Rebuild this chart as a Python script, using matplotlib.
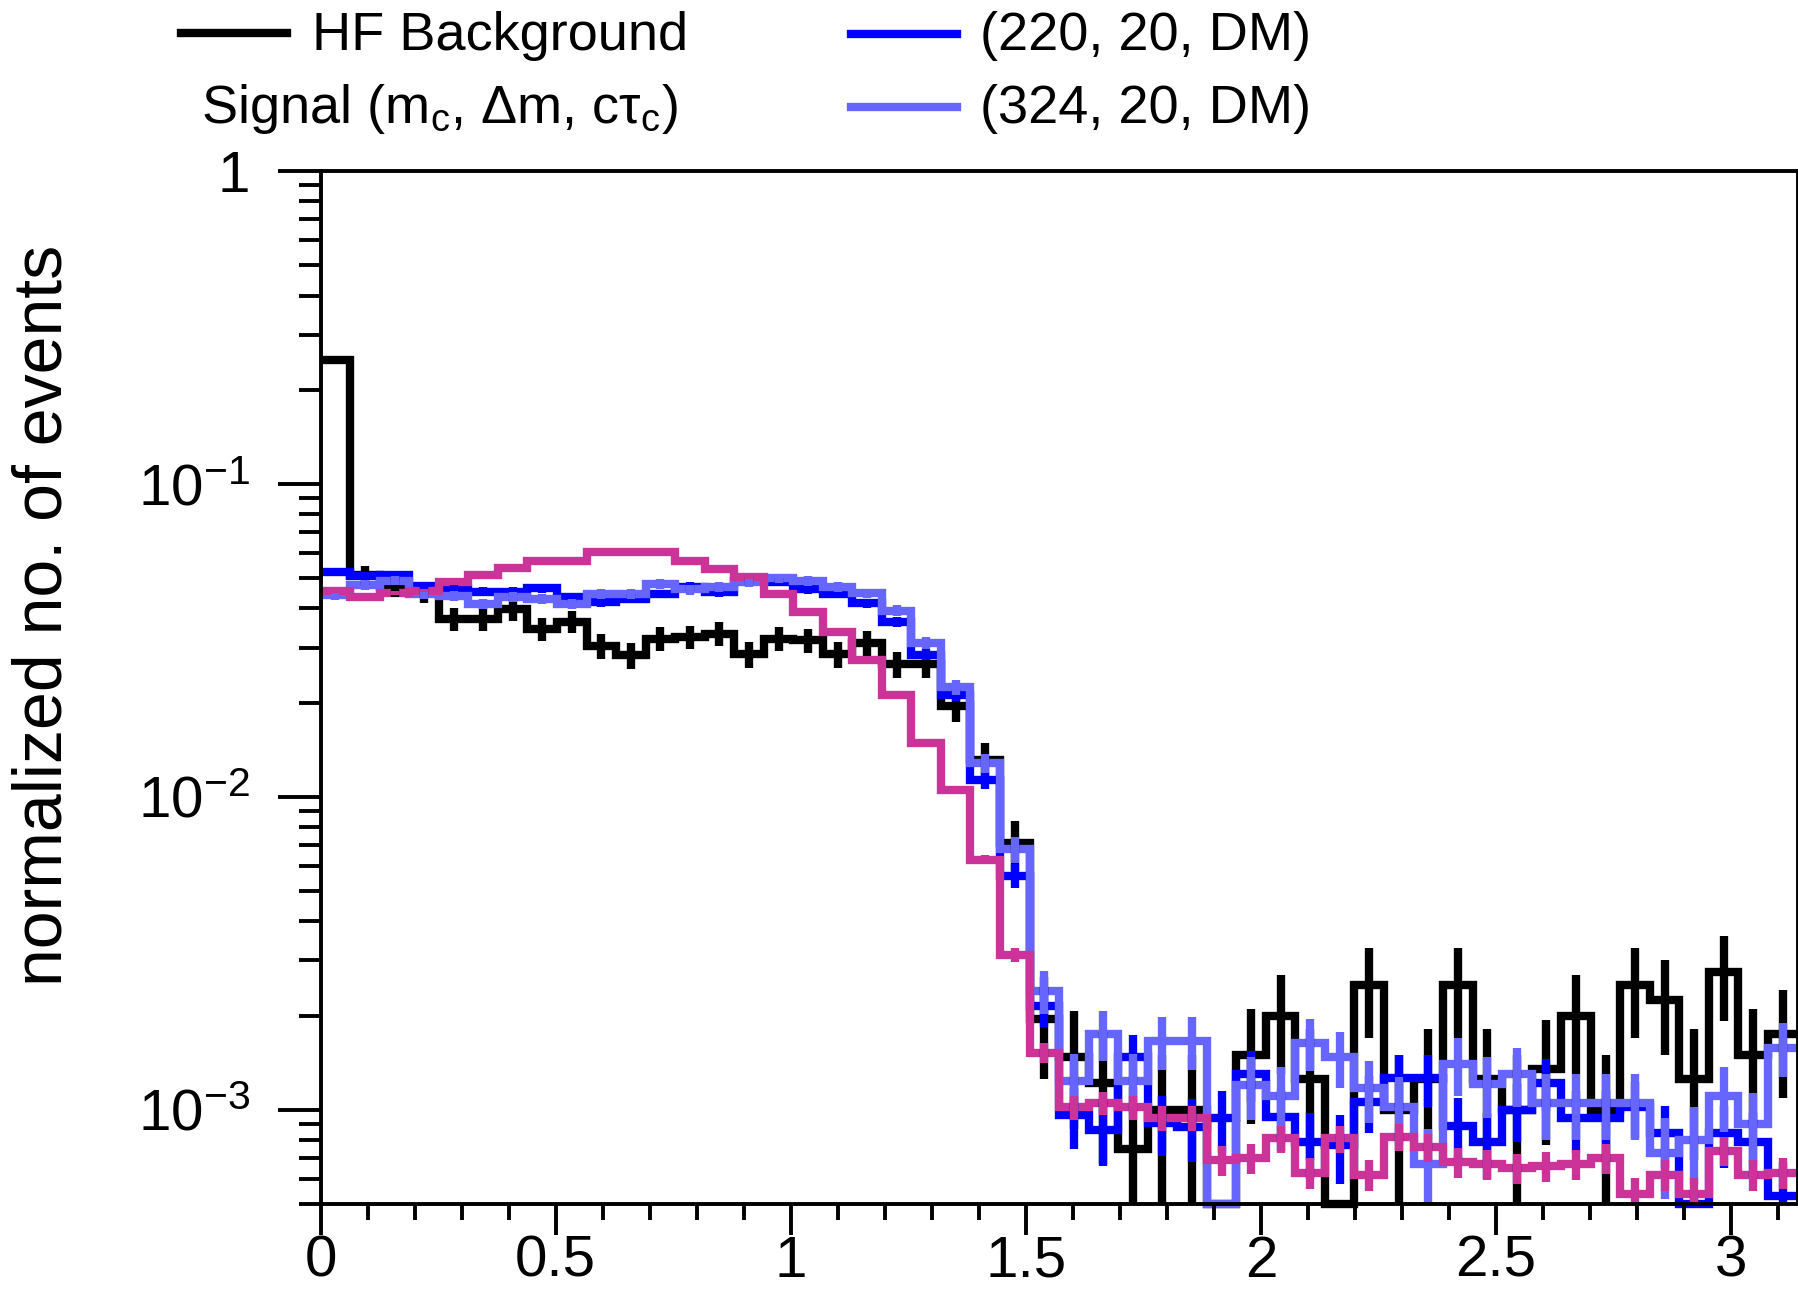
import numpy as np
import matplotlib.pyplot as plt
from matplotlib.lines import Line2D
from matplotlib.ticker import LogLocator, MultipleLocator, FixedLocator, FuncFormatter, NullFormatter

plt.rcParams['font.family'] = ['Liberation Sans', 'DejaVu Sans']
plt.rcParams['mathtext.fontset'] = 'custom'
plt.rcParams['mathtext.rm'] = 'Liberation Sans'
plt.rcParams['mathtext.it'] = 'Liberation Sans'
plt.rcParams['mathtext.default'] = 'regular'

##########
# BINNING #
##########
x_lo, x_hi, n_bins = 0.0, np.pi, 50
y_lo, y_hi = 5e-4, 1.0

x_ticks = [0, 0.5, 1, 1.5, 2, 2.5, 3]
x_tick_labels = ['0', '0.5', '1', '1.5', '2', '2.5', '3']

# HF BACKGROUND (BIN CONTENTS + ERRORS)
bkg_vals = [0.249, 0.051, 0.047, 0.045, 0.037, 0.037, 0.0397, 0.0344, 0.0363, 0.0304,
            0.0283, 0.032, 0.0324, 0.0332, 0.0286, 0.032, 0.0316, 0.0286, 0.031, 0.0265,
            0.0265, 0.0195, 0.0131, 0.0071, 0.00195, 0.00147, 0.00122, 0.00075, 0.001, 0.001,
            0.0, 0.0015, 0.002, 0.00125, 0.0, 0.0025, 0.001, 0.00125, 0.0025, 0.00125,
            0.001, 0.00135, 0.002, 0.001, 0.0025, 0.00225, 0.00125, 0.00275, 0.0015, 0.00175]
bkg_errs = [0.0079, 0.0036, 0.0034, 0.0034, 0.003, 0.003, 0.0031, 0.0029, 0.003, 0.0028,
            0.0027, 0.0028, 0.0028, 0.0029, 0.0027, 0.0028, 0.0028, 0.0027, 0.0028, 0.0026,
            0.0026, 0.0022, 0.0018, 0.0013, 0.0007, 0.0006, 0.00055, 0.00043, 0.0005, 0.0005,
            0.0, 0.0006, 0.0007, 0.00056, 0.0, 0.0008, 0.0005, 0.00056, 0.0008, 0.00056,
            0.0005, 0.00058, 0.0007, 0.0005, 0.0008, 0.00075, 0.00056, 0.00083, 0.0006, 0.00066]

# SIGNAL (220, 20, DM)
sig220_vals = [0.0522, 0.0507, 0.051, 0.0473, 0.0462, 0.0453, 0.0453, 0.0464, 0.0435, 0.0419,
               0.043, 0.0445, 0.047, 0.045, 0.049, 0.0485, 0.046, 0.0445, 0.0416, 0.0362,
               0.0285, 0.0212, 0.0113, 0.0056, 0.00215, 0.00096, 0.00086, 0.00147, 0.00091, 0.00088,
               0.00094, 0.0013, 0.00095, 0.00079, 0.00077, 0.00106, 0.00126, 0.00126, 0.00089, 0.00079,
               0.001, 0.00122, 0.00094, 0.00094, 0.00102, 0.00084, 0.00045, 0.00084, 0.00079, 0.00053]
sig220_errs = [0.0015, 0.0015, 0.0015, 0.00146, 0.00144, 0.00143, 0.00143, 0.00144, 0.0014, 0.00137,
               0.00139, 0.00142, 0.00145, 0.00142, 0.00148, 0.00148, 0.00144, 0.00142, 0.00137, 0.00128,
               0.00113, 0.00098, 0.00071, 0.0005, 0.00031, 0.00021, 0.0002, 0.00026, 0.0002, 0.0002,
               0.00021, 0.00024, 0.00021, 0.00019, 0.00019, 0.00022, 0.00024, 0.00024, 0.0002, 0.00019,
               0.00021, 0.00023, 0.00021, 0.00021, 0.00021, 0.00019, 0.0001, 0.00019, 0.00019, 0.00015]

# SIGNAL (324, 20, DM)
sig324_vals = [0.0442, 0.0475, 0.0491, 0.0446, 0.044, 0.0414, 0.0435, 0.043, 0.0414, 0.0446,
               0.0445, 0.048, 0.046, 0.047, 0.0485, 0.05, 0.049, 0.047, 0.0447, 0.0394,
               0.031, 0.0224, 0.0128, 0.0068, 0.0024, 0.00124, 0.00175, 0.00124, 0.00166, 0.00166,
               0.0, 0.0012, 0.00111, 0.00164, 0.00147, 0.00117, 0.00102, 0.00067, 0.0014, 0.00121,
               0.0013, 0.00105, 0.00105, 0.00105, 0.00105, 0.00073, 0.0008, 0.00111, 0.0009, 0.00158]
sig324_errs = [0.0016, 0.0017, 0.0017, 0.0016, 0.0016, 0.0016, 0.0016, 0.0016, 0.0016, 0.0016,
               0.0016, 0.0017, 0.0017, 0.0017, 0.0017, 0.0017, 0.0017, 0.0017, 0.0016, 0.0015,
               0.0014, 0.0012, 0.0009, 0.00064, 0.00038, 0.00027, 0.00032, 0.00027, 0.00032, 0.00032,
               0.0, 0.00027, 0.00026, 0.00031, 0.0003, 0.00026, 0.00025, 0.0002, 0.00029, 0.00027,
               0.00028, 0.00025, 0.00025, 0.00025, 0.00025, 0.00021, 0.00022, 0.00026, 0.00023, 0.00031]

# THIRD SIGNAL POINT (NO LEGEND ENTRY)
sig3_vals = [0.0454, 0.0435, 0.0448, 0.0456, 0.0485, 0.0512, 0.0538, 0.0569, 0.0569, 0.0605,
             0.0605, 0.0605, 0.0569, 0.0535, 0.0503, 0.0445, 0.0389, 0.0336, 0.0273, 0.0212,
             0.0149, 0.0105, 0.0063, 0.00312, 0.00152, 0.00102, 0.00105, 0.00102, 0.00094, 0.00094,
             0.00069, 0.0007, 0.00081, 0.00063, 0.00081, 0.00062, 0.00082, 0.00076, 0.00068, 0.00067,
             0.00065, 0.00066, 0.00067, 0.0007, 0.00054, 0.00062, 0.00054, 0.00074, 0.00062, 0.00063]
sig3_errs = [0.0006, 0.0006, 0.0006, 0.0006, 0.00062, 0.00064, 0.00066, 0.00067, 0.00067, 0.0007,
             0.0007, 0.0007, 0.00067, 0.00065, 0.00063, 0.0006, 0.00056, 0.00052, 0.00047, 0.00041,
             0.00035, 0.00029, 0.00022, 0.00016, 0.00011, 0.00009, 0.00009, 0.00009, 0.000087, 0.000087,
             0.000074, 0.000075, 0.00008, 0.000071, 0.00008, 0.00007, 0.00008, 0.000078, 0.000074, 0.000073,
             0.000072, 0.000073, 0.000073, 0.000075, 0.000066, 0.00007, 0.000066, 0.000077, 0.00007, 0.000071]

edges = np.linspace(x_lo, x_hi, n_bins + 1)
centers = 0.5 * (edges[:-1] + edges[1:])

LW = 6.0      # histogram / error bar width
AX_LW = 2.8   # frame and tick width


def draw_hist(ax, vals, errs, color):
    """Step histogram with vertical error bars, empty bins pinned to the frame bottom."""
    vals = np.asarray(vals, dtype=float)
    errs = np.asarray(errs, dtype=float)
    ax.stairs(np.clip(vals, y_lo, None), edges, baseline=None, color=color, lw=LW,
              clip_on=False, joinstyle='miter')
    lo = np.clip(vals - errs, y_lo, None)
    hi = vals + errs
    ok = (errs > 0) & (hi > y_lo)
    ax.vlines(centers[ok], lo[ok], hi[ok], color=color, lw=LW, clip_on=False, capstyle='butt')


W, H = 1798, 1289
fig = plt.figure(figsize=(W / 100, H / 100), dpi=100)
ax = fig.add_axes([320.7 / W, (H - 1204) / H, (1797.5 - 320.7) / W, (1204 - 171) / H])

draw_hist(ax, bkg_vals, bkg_errs, '#000000')
draw_hist(ax, sig220_vals, sig220_errs, '#0000ff')
draw_hist(ax, sig324_vals, sig324_errs, '#6666ff')
draw_hist(ax, sig3_vals, sig3_errs, '#cc3399')

ax.set_xlim(x_lo, x_hi)
ax.set_yscale('log')
ax.set_ylim(y_lo, y_hi)

# AXES + TICKS
for sp in ax.spines.values():
    sp.set_linewidth(AX_LW)

ax.xaxis.set_major_locator(FixedLocator(x_ticks))
ax.set_xticklabels(x_tick_labels)
ax.xaxis.set_minor_locator(MultipleLocator(0.1))

ax.yaxis.set_major_locator(LogLocator(base=10, numticks=10))
ax.yaxis.set_minor_locator(LogLocator(base=10, subs=np.arange(2, 10), numticks=10))
ax.yaxis.set_major_formatter(FuncFormatter(
    lambda v, pos: '1' if np.isclose(v, 1) else r'$10^{%d}$' % round(np.log10(v))))
ax.yaxis.set_minor_formatter(NullFormatter())

ax.tick_params(axis='x', which='major', direction='out', length=22, width=AX_LW,
               labelsize=42, pad=0)
ax.tick_params(axis='x', which='minor', direction='out', length=11.5, width=AX_LW)
ax.tick_params(axis='y', which='major', direction='out', length=31, width=AX_LW,
               labelsize=42, pad=20)
ax.tick_params(axis='y', which='minor', direction='out', length=16, width=AX_LW)
ax.tick_params(top=False, right=False)

fig.text(44 / W, 1 - 615 / H, 'normalized no. of events', rotation=90,
         ha='center', va='center', fontsize=49)

# LEGEND (DRAWN BY HAND ABOVE THE FRAME)
fig.add_artist(Line2D([181 / W, 287 / W], [1 - 33 / H] * 2, color='#000000', lw=LW))
fig.add_artist(Line2D([851 / W, 957 / W], [1 - 34 / H] * 2, color='#0000ff', lw=LW))
fig.add_artist(Line2D([851 / W, 957 / W], [1 - 107 / H] * 2, color='#6666ff', lw=LW))

fig.text(312 / W, 1 - 50 / H, 'HF Background', ha='left', va='baseline', fontsize=39)
fig.text(201 / W, 1 - 123 / H, r'Signal (m$_{c}$, Δm, cτ$_{c}$)', ha='left', va='baseline',
         fontsize=39)
fig.text(980 / W, 1 - 50 / H, '(220, 20, DM)', ha='left', va='baseline', fontsize=39)
fig.text(980 / W, 1 - 123 / H, '(324, 20, DM)', ha='left', va='baseline', fontsize=39)

fig.savefig('out.png', dpi=100)
